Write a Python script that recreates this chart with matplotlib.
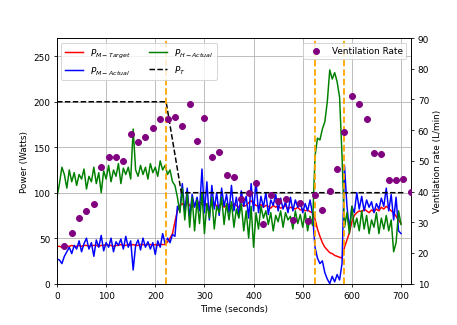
import numpy as np
import matplotlib
matplotlib.use("Agg")
import matplotlib.pyplot as plt

plt.rcParams['font.size'] = 9

time = np.arange(0, 705, 5)

p_m_target = [
    41, 41, 40, 40, 41, 41, 42, 41, 41, 42, 41, 42, 42, 41, 42, 42, 42, 41, 42, 42,
    43, 42, 42, 41, 42, 42, 43, 42, 42, 43, 42, 43, 42, 42, 43, 43, 42, 43, 43, 42,
    43, 42, 43, 43, 43, 46, 50, 55, 68, 80, 86, 88, 84, 90, 86, 84, 88, 85, 90, 87,
    86, 88, 84, 87, 89, 85, 86, 88, 84, 86, 87, 85, 88, 86, 84, 87, 85, 86, 89, 91,
    88, 86, 85, 87, 84, 86, 85, 83, 86, 84, 85, 83, 84, 86, 82, 84, 83, 82, 84, 81,
    82, 80, 81, 79, 78, 71, 60, 52, 45, 40, 37, 34, 33, 31, 30, 29, 28, 40, 48, 56,
    68, 75, 78, 80, 79, 82, 80, 78, 81, 79, 82, 80, 84, 82, 85, 83, 80, 78, 74, 70,
    66]

p_m_actual = [
    27, 26, 22, 30, 35, 40, 33, 42, 38, 47, 35, 44, 50, 38, 45, 30, 48, 40, 53, 36,
    45, 40, 50, 35, 46, 42, 49, 38, 52, 40, 47, 15, 42, 48, 37, 50, 40, 46, 38, 45,
    32, 47, 40, 55, 44, 50, 45, 54, 52, 85, 80, 110, 78, 105, 72, 98, 84, 95, 80, 126,
    78, 112, 70, 108, 82, 100, 75, 105, 85, 98, 78, 108, 80, 95, 74, 102, 85, 96, 72, 110,
    80, 112, 78, 96, 84, 100, 76, 92, 86, 98, 80, 94, 82, 90, 78, 95, 80, 92, 84, 90,
    78, 88, 80, 92, 76, 40, 28, 22, 25, 12, 5, 0, 8, 2, 10, 4, 22, 130, 85, 60,
    85, 78, 100, 82, 96, 80, 92, 84, 90, 78, 88, 82, 94, 85, 105, 80, 98, 70, 95, 58,
    55]

p_h_actual = [
    95, 110, 128, 120, 105, 125, 112, 122, 108, 120, 115, 126, 104, 118, 112, 128, 110, 122, 100, 124,
    115, 130, 112, 125, 118, 132, 110, 127, 120, 128, 115, 170, 125, 118, 130, 120, 128, 115, 132, 122,
    128, 118, 135, 125, 130, 120, 125, 112, 108, 95, 78, 105, 70, 100, 62, 95, 58, 92, 66, 100,
    55, 88, 72, 95, 60, 85, 78, 95, 65, 88, 70, 90, 62, 82, 72, 88, 58, 80, 50, 85,
    40, 78, 60, 85, 72, 80, 65, 78, 58, 75, 68, 80, 62, 78, 70, 74, 60, 80, 66, 76,
    62, 78, 58, 74, 64, 140, 160, 158, 170, 178, 200, 235, 225, 232, 222, 205, 140, 62, 78, 55,
    85, 62, 72, 58, 80, 60, 75, 55, 70, 62, 78, 55, 72, 60, 75, 58, 70, 35, 45, 80,
    65]

pt_time = [0, 222, 253, 705]
pt_vals = [200, 200, 100, 100]

event_times = [222, 525, 583]

vent_time = np.arange(15, 721, 15)
vent_rate = [
    22.3, 26.6, 31.4, 33.7, 35.8, 48.1, 51.1, 51.1, 49.8, 58.9,
    56.2, 57.7, 60.8, 63.6, 63.7, 64.3, 61.3, 68.4, 56.6, 64.0,
    51.4, 53.0, 45.3, 44.6, 37.5, 39.6, 42.9, 29.5, 38.9, 37.0,
    37.6, 30.6, 36.2, 30.4, 38.9, 34.1, 40.2, 47.4, 59.3, 71.1,
    68.4, 63.6, 52.4, 52.1, 43.8, 43.9, 44.1, 39.7]

fig = plt.figure(figsize=(6.4, 4.5654), dpi=71.40625)
ax1 = fig.add_axes([0.1247, 0.127, 0.7743, 0.753])

ax1.plot(time, p_m_target, color='red', lw=1.5, label=r'$P_{M-Target}$')
ax1.plot(time, p_m_actual, color='blue', lw=1.5, label=r'$P_{M-Actual}$')
ax1.plot(time, p_h_actual, color='green', lw=1.5, label=r'$P_{H-Actual}$')
ax1.plot(pt_time, pt_vals, color='black', ls='--', lw=1.5, label=r'$P_T$')
for t in event_times:
    ax1.axvline(t, color='orange', ls='--', lw=1.8)

ax1.set_xlim(0, 720)
ax1.set_ylim(0, 270)
ax1.set_xticks(range(0, 701, 100))
ax1.set_yticks(range(0, 251, 50))
ax1.grid(True)
ax1.set_xlabel('Time (seconds)')
ax1.set_ylabel('Power (Watts)')
ax1.legend(loc='upper left', ncol=2)

ax2 = ax1.twinx()
ax2.scatter(vent_time, vent_rate, color='purple', s=36, label='Ventilation Rate', zorder=3)
ax2.set_ylim(10, 90)
ax2.set_yticks(range(10, 91, 10))
ax2.set_ylabel('Ventilation rate (L/min)')
ax2.legend(loc='upper right')

fig.savefig('out.png', dpi=71.40625)
